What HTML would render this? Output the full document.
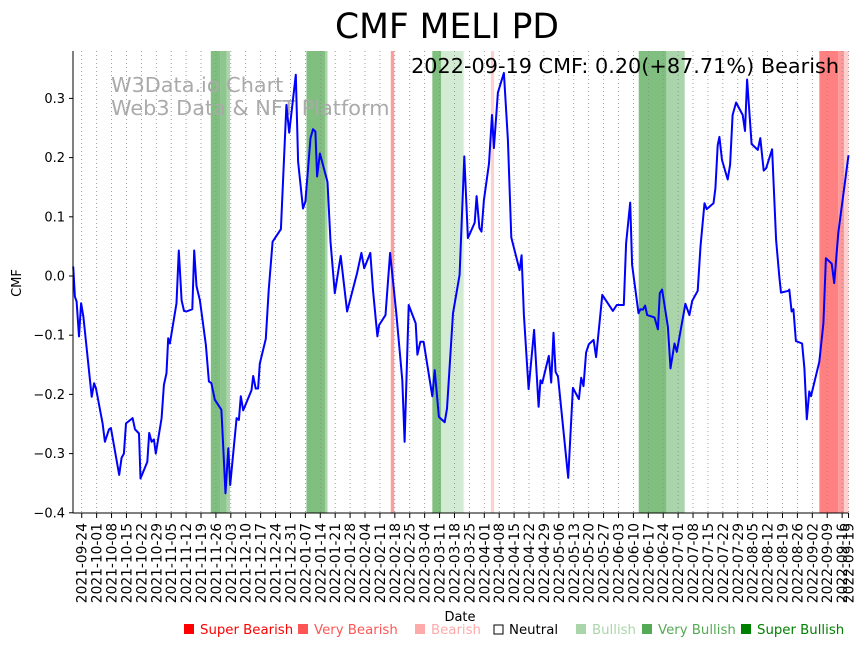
<!DOCTYPE html>
<html><head><meta charset="utf-8"><style>
body{margin:0;background:#fff;}
svg{display:block;font-family:"DejaVu Sans","Liberation Sans",sans-serif;}
</style></head><body>
<svg id="chart" width="867" height="646" viewBox="0 0 867 646">
<text x="447" y="38" font-size="34.5" text-anchor="middle">CMF MELI PD</text>
<g id="bands"></g>
<g id="grid"></g>
<text x="111" y="92" font-size="20.8" fill="#aaa">W3Data.io Chart</text>
<text x="111" y="115" font-size="20.8" fill="#aaa">Web3 Data &amp; NFT Platform</text>
<text x="839" y="73" font-size="20.8" text-anchor="end">2022-09-19 CMF: 0.20(+87.71%) Bearish</text>
<g id="series"></g>
<line x1="73" y1="51" x2="73" y2="513" stroke="#000" stroke-width="1"/>
<line x1="73" y1="513" x2="848.5" y2="513" stroke="#000" stroke-width="1"/>
<g id="yticks"></g>
<g id="xticks"></g>
<text transform="translate(21,283) rotate(-90)" font-size="13" text-anchor="middle">CMF</text>
<text x="460" y="621" font-size="13" text-anchor="middle">Date</text>
<g id="legend" font-size="13.3">
<rect x="184" y="624" width="10" height="10" fill="#ff0000"/>
<text x="200" y="634" fill="#ff0000">Super Bearish</text>
<rect x="298" y="624" width="10" height="10" fill="#ff5555"/>
<text x="314" y="634" fill="#ff5555">Very Bearish</text>
<rect x="415" y="624" width="10" height="10" fill="#ffaaaa"/>
<text x="431" y="634" fill="#ffaaaa">Bearish</text>
<rect x="494" y="625" width="9" height="9" fill="none" stroke="#000"/>
<text x="509" y="634" fill="#000">Neutral</text>
<rect x="576" y="624" width="10" height="10" fill="#aad5aa"/>
<text x="592" y="634" fill="#aad5aa">Bullish</text>
<rect x="642" y="624" width="10" height="10" fill="#55aa55"/>
<text x="658" y="634" fill="#55aa55">Very Bullish</text>
<rect x="741" y="624" width="10" height="10" fill="#008000"/>
<text x="757" y="634" fill="#008000">Super Bullish</text>
</g>
</svg>
<script>
// days since 2021-09-20
const days=[0,0.8,1.6,2.7,3.7,4.8,8.7,9.8,10.7,13.8,14.9,16.8,17.7,21.6,22.7,23.8,24.8,27.9,29.0,30.9,31.6,34.8,35.7,36.8,37.9,38.8,41.5,42.6,43.8,44.6,45.4,48.5,49.6,50.9,52.0,53.2,55.9,56.8,57.9,59.5,62.3,63.7,64.9,66.5,69.6,71.5,72.8,73.7,76.7,77.8,78.7,79.8,83.7,84.5,85.7,86.8,87.6,90.4,91.8,93.6,97.5,100.1,101.4,104.5,105.6,107.9,109.0,111.4,112.6,113.7,114.5,115.8,119.4,120.8,122.8,125.6,128.6,133.3,135.3,136.6,139.5,140.8,142.8,143.6,146.6,148.8,151.7,154.5,155.6,157.5,160.8,161.6,163.0,164.5,168.6,169.7,171.7,174.4,175.5,178.3,181.4,183.6,185.3,188.5,189.4,190.7,191.7,192.8,195.2,196.6,197.5,199.4,202.2,204.1,205.7,209.6,210.5,211.6,213.8,216.4,218.5,219.4,220.2,223.3,224.4,225.5,226.5,227.6,232.4,234.6,237.4,238.5,239.6,240.8,242.1,244.3,245.5,248.4,253.4,255.2,258.5,259.6,261.5,262.4,265.4,266.3,267.4,268.5,269.5,272.9,274.5,275.4,276.5,279.2,280.4,282.3,283.4,287.4,289.3,290.6,293.2,294.5,296.4,297.4,300.6,301.5,302.6,303.4,304.6,307.3,308.4,309.6,311.2,314.3,315.4,316.4,318.5,321.4,322.6,324.2,325.3,328.1,330.0,331.5,332.3,335.8,336.2,337.3,338.1,339.3,342.2,343.3,344.4,345.6,346.4,350.3,352.2,353.4,356.1,357.3,359.2,364];
const cmf=[0.016,-0.035,-0.043,-0.102,-0.046,-0.069,-0.204,-0.181,-0.19,-0.249,-0.28,-0.259,-0.257,-0.336,-0.307,-0.3,-0.249,-0.24,-0.259,-0.266,-0.342,-0.314,-0.265,-0.28,-0.276,-0.3,-0.24,-0.184,-0.164,-0.105,-0.114,-0.046,0.043,-0.041,-0.059,-0.06,-0.056,0.043,-0.017,-0.041,-0.117,-0.178,-0.181,-0.209,-0.226,-0.367,-0.291,-0.353,-0.24,-0.243,-0.203,-0.227,-0.193,-0.169,-0.19,-0.19,-0.148,-0.106,-0.024,0.058,0.079,0.289,0.242,0.340,0.193,0.114,0.126,0.233,0.248,0.244,0.168,0.207,0.159,0.058,-0.029,0.034,-0.060,0.005,0.039,0.013,0.039,-0.026,-0.102,-0.083,-0.066,0.039,-0.063,-0.176,-0.280,-0.049,-0.080,-0.133,-0.111,-0.111,-0.203,-0.159,-0.238,-0.247,-0.224,-0.063,0.002,0.202,0.064,0.090,0.135,0.081,0.075,0.128,0.190,0.272,0.216,0.310,0.343,0.230,0.065,0.010,0.035,-0.066,-0.191,-0.091,-0.221,-0.176,-0.181,-0.135,-0.180,-0.096,-0.162,-0.170,-0.341,-0.189,-0.208,-0.172,-0.186,-0.129,-0.115,-0.108,-0.137,-0.032,-0.059,-0.049,-0.049,0.055,0.124,0.019,-0.063,-0.056,-0.057,-0.050,-0.066,-0.070,-0.090,-0.029,-0.023,-0.086,-0.156,-0.114,-0.128,-0.047,-0.066,-0.042,-0.025,0.050,0.123,0.113,0.123,0.148,0.221,0.235,0.196,0.163,0.188,0.272,0.293,0.272,0.245,0.332,0.223,0.213,0.233,0.178,0.182,0.214,0.061,-0.001,-0.028,-0.025,-0.023,-0.060,-0.056,-0.110,-0.114,-0.156,-0.242,-0.195,-0.203,-0.145,-0.080,0.030,0.021,-0.012,0.073,0.204];
// signal bands: start day, end day, class
const bandStart=[64.6,69.3,72.0,109.5,118.2,149.1,168.6,172.8,196.1,265.5,278.5,350.3,359.2,362.0];
const bandEnd=[69.3,72.0,73.6,118.2,119.4,150.7,172.8,183.3,197.6,278.5,287.1,359.2,362.0,364];
const bandClass=['very-bullish','bullish-mid','bullish','very-bullish','bullish','very-bearish-light','very-bullish','bullish-light','bearish','very-bullish','bullish','super-bearish','very-bearish','bearish'];
const bandColors={'very-bullish':'#80bf80','bullish-mid':'#8fc68f','bullish':'#aad5aa','bullish-light':'#d3ead3','very-bearish-light':'#ff9d9d','super-bearish':'#ff8080','very-bearish':'#ff9999','bearish':'#ffd0d0'};
const yTicks=[0.3,0.2,0.1,0.0,-0.1,-0.2,-0.3,-0.4];
const yTickLabels=['0.3','0.2','0.1','0.0','\u22120.1','\u22120.2','\u22120.3','\u22120.4'];
const xTickDays=[];const xTickLabels=[];
(function(){const s=new Date(Date.UTC(2021,8,20));for(let d=4;d<=361;d+=7){xTickDays.push(d);xTickLabels.push(new Date(s.getTime()+d*864e5).toISOString().slice(0,10));}xTickDays.push(364);xTickLabels.push('2022-09-19');})();

const NS='http://www.w3.org/2000/svg';
function xs(d){return 73.2+d*2.13;}
function ys(v){return 276-v*592;}
function mk(t,a,p){const e=document.createElementNS(NS,t);for(const k in a)e.setAttribute(k,a[k]);p.appendChild(e);return e;}
const gB=document.getElementById('bands');
for(let i=0;i<bandStart.length;i++){const r=mk('rect',{x:xs(bandStart[i]),y:51,width:xs(bandEnd[i])-xs(bandStart[i]),height:462,fill:bandColors[bandClass[i]]},gB);

}
const gG=document.getElementById('grid');const gX=document.getElementById('xticks');
for(let i=0;i<xTickDays.length;i++){const x=xs(xTickDays[i]);
const l=mk('line',{x1:x,y1:51,x2:x,y2:513,stroke:'#888','stroke-width':0.8,'stroke-dasharray':'1,3'},gG);


mk('line',{x1:x,y1:513,x2:x,y2:518,stroke:'#000'},gX);
const t=mk('text',{transform:'translate('+(x+5)+',523) rotate(-90)','font-size':13.8,'text-anchor':'end'},gX);t.textContent=xTickLabels[i];

}
const gY=document.getElementById('yticks');
for(let i=0;i<yTicks.length;i++){const y=ys(yTicks[i]);mk('line',{x1:69,y1:y,x2:73,y2:y,stroke:'#000'},gY);
const t=mk('text',{x:65,y:y+4.5,'font-size':13,'text-anchor':'end'},gY);t.textContent=yTickLabels[i];

}
const gS=document.getElementById('series');
let d='';for(let i=0;i<days.length;i++)d+=(i?'L':'M')+xs(days[i]).toFixed(1)+','+ys(cmf[i]).toFixed(1);
const p=mk('path',{d:d,fill:'none',stroke:'#0000ff','stroke-width':2,'stroke-linejoin':'round'},gS);


</script>
</body></html>
